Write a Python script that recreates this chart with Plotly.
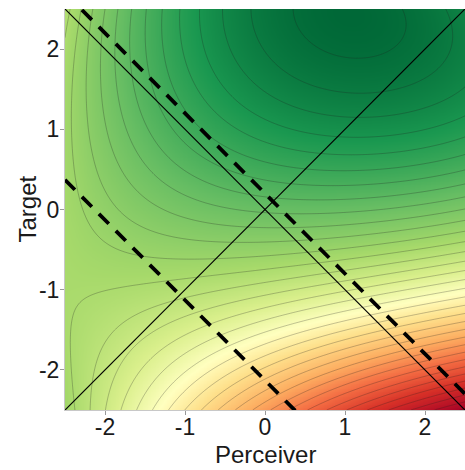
import numpy as np
import plotly.graph_objects as go

# Response-surface (cubic polynomial) coefficients, estimated from the reference contours
term_names = ["1", "x", "y", "x2", "xy", "y2", "x3", "x2y", "xy2", "y3"]
coef_values = [-8.2967, 0.4109, 5.1593, -0.4023, 1.3090, -0.6963, 0.0152, -0.2516, -0.2571, -0.0866]

# Axis setup
axis_range = [-2.5, 2.5]
tick_values = [-2, -1, 0, 1, 2]
tick_labels = ["-2", "-1", "0", "1", "2"]
x_title = "Perceiver"
y_title = "Target"

# Reference lines: (slope, intercept)
solid_lines = [(1, 0), (-1, 0)]
dashed_lines = [(-1, 0.2), (-1, -2.13)]

contour_step = 1.0
contour_first = -0.5

gx = np.linspace(axis_range[0], axis_range[1], 251)
gy = np.linspace(axis_range[0], axis_range[1], 251)
X, Y = np.meshgrid(gx, gy)
terms = {"1": np.ones_like(X), "x": X, "y": Y, "x2": X**2, "xy": X*Y, "y2": Y**2,
         "x3": X**3, "x2y": X**2*Y, "xy2": X*Y**2, "y3": Y**3}
Z = sum(c * terms[n] for n, c in zip(term_names, coef_values))

cs = [[0.00, "#a50026"], [0.12, "#d73027"], [0.22, "#f46d43"], [0.31, "#fdae61"],
      [0.40, "#fee08b"], [0.47, "#ffffbf"], [0.55, "#d9ef8b"], [0.64, "#a6d96a"],
      [0.76, "#66bd63"], [0.89, "#1a9850"], [1.00, "#006837"]]

fig = go.Figure()
fig.add_trace(go.Contour(
    x=gx, y=gy, z=Z, colorscale=cs, zmin=float(Z.min()), zmax=float(Z.max()),
    contours=dict(coloring="heatmap", start=contour_first - 40 * contour_step,
                  end=contour_first, size=contour_step, showlines=True),
    line=dict(color="rgba(30,30,30,0.45)", width=0.6, smoothing=1),
    showscale=False, hoverinfo="skip"))

xs = np.array(axis_range, dtype=float)
for slope, icpt in solid_lines:
    fig.add_trace(go.Scatter(x=xs, y=slope * xs + icpt, mode="lines",
                             line=dict(color="black", width=1.2), hoverinfo="skip", showlegend=False))
for slope, icpt in dashed_lines:
    fig.add_trace(go.Scatter(x=xs, y=slope * xs + icpt, mode="lines",
                             line=dict(color="black", width=3.8, dash="14px,10px"),
                             hoverinfo="skip", showlegend=False))

fig.update_layout(
    width=465, height=470, margin=dict(l=65, r=0, t=9, b=60),
    plot_bgcolor="white", paper_bgcolor="white",
    font=dict(family="Liberation Sans, Arial, sans-serif", size=23, color="#1a1a1a"),
    showlegend=False)
fig.update_xaxes(range=axis_range, tickvals=tick_values, ticktext=tick_labels, ticks="outside",
                 ticklen=4, tickcolor="#999", showgrid=False, zeroline=False, automargin=False,
                 showline=True, linecolor="#c8c8c8", ticklabelstandoff=-8)
fig.update_yaxes(range=axis_range, tickvals=tick_values, ticktext=tick_labels, ticks="outside",
                 ticklen=4, tickcolor="#999", showgrid=False, zeroline=False, automargin=False,
                 showline=True, linecolor="#c8c8c8", ticklabelstandoff=-4)
fig.add_annotation(text=x_title, xref="paper", yref="paper", x=0.5, y=0.0, yshift=-29,
                   yanchor="top", showarrow=False, font=dict(size=24, color="#1a1a1a"))
fig.add_annotation(text=y_title, xref="paper", yref="paper", x=0, y=0.5, xshift=-38,
                   xanchor="center", showarrow=False, textangle=-90, font=dict(size=24, color="#1a1a1a"))
fig.write_html("out.html", config={"displayModeBar": False},
               post_script="document.body.style.margin='0';document.body.style.overflow='hidden';")
